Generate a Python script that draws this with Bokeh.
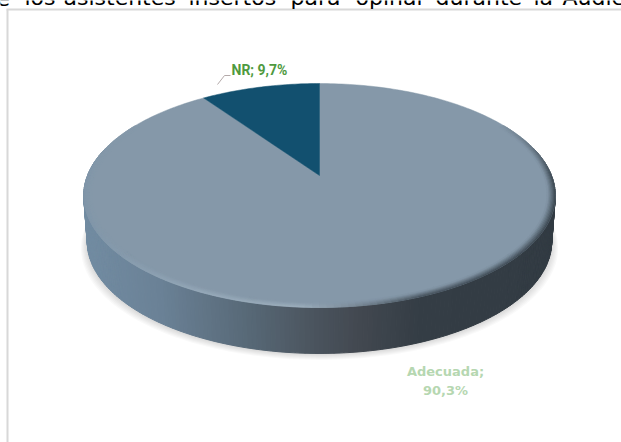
import math
import numpy as np
from bokeh.plotting import figure
from bokeh.models import Range1d, ColumnDataSource
from bokeh.core.properties import value
from bokeh.embed import file_html
from bokeh.resources import INLINE

categories = ["Adecuada", "NR"]
shares = [90.3, 9.7]
label_lines = [["Adecuada;", "90,3%"], ["NR; 9,7%"]]
title_words = ["e", "los", "asistentes", "insertos", "para", "opinar", "durante", "la", "Audiencia"]
title_word_x = [-4, 24, 63, 188, 290, 355, 435, 533, 562]

CX, CY, A, H, K, DEPTH = 319.0, 175.0, 232.0, 108.4, 0.1786, 46.0


def proj(theta, t=1.0, dy=0.0, s=1.0):
    u, v = t * np.cos(theta), t * np.sin(theta)
    w = 1.0 / (1.0 + K * v)
    return CX + s * A * u * w, CY - H * v * w + dy


def hex2rgb(h):
    return np.array([int(h[i:i + 2], 16) for i in (1, 3, 5)], float)


def rgb2hex(c):
    return "#%02x%02x%02x" % tuple(int(round(x)) for x in np.clip(c, 0, 255))


def ramp(x, xs, cols):
    arr = np.array([hex2rgb(c) for c in cols])
    return np.array([np.interp(x, xs, arr[:, i]) for i in range(3)])


p = figure(width=621, height=442, x_range=Range1d(0, 621), y_range=Range1d(442, 0),
           output_backend="svg", toolbar_location=None, min_border=0,
           margin=(0, 0, 0, 0), background_fill_color="white", border_fill_color="white")
p.axis.visible = False
p.grid.visible = False
p.outline_line_color = None

# frame of the pasted chart
p.quad(left=[6], right=[8], top=[9], bottom=[442], fill_color="#d8d8d8", line_color=None)
p.quad(left=[6], right=[621], top=[8], bottom=[10], fill_color="#d8d8d8", line_color=None)

# soft shadow under the disc
th = np.linspace(0, 2 * np.pi, 200)
for i in range(7):
    x, y = proj(th, 1.0, DEPTH + 0.5 + i * 1.0, 0.985 + i * 0.0045)
    p.patch(x, y, fill_color="#000000", fill_alpha=0.025, line_color=None)

# side wall
sx, sy, sc = [], [], []
angles = np.linspace(np.radians(165), np.radians(375), 211)
for a0, a1 in zip(angles[:-1], angles[1:]):
    x0t, y0t = proj(a0)
    x1t, y1t = proj(a1)
    x0b, y0b = proj(a0, 1.0, DEPTH, 0.985)
    x1b, y1b = proj(a1, 1.0, DEPTH, 0.985)
    sx.append([x0t, x1t, x1b, x0b])
    sy.append([y0t, y1t, y1b, y0b])
    sc.append(rgb2hex(ramp((x0t + x1t) / 2,
                           [83, 160, 250, 310, 360, 420, 555],
                           ["#728ca2", "#6a8196", "#576876", "#4b555f", "#424850", "#343d45", "#323b43"])))
p.patches("xs", "ys", fill_color="color", line_color="color", line_width=1,
          source=ColumnDataSource(dict(xs=sx, ys=sy, color=sc)))

# top face, slices from the shares
frac = np.array(shares) / sum(shares)
top = np.pi / 2
nr_end = top + 2 * np.pi * frac[1]
th_main = np.linspace(nr_end, top + 2 * np.pi, 300)
xm, ym = proj(th_main)
p.patch(np.r_[CX, xm], np.r_[CY, ym], fill_color="#8598a9", line_color="#8598a9", line_width=0.5)
th_nr = np.linspace(top, nr_end, 40)
xn, yn = proj(th_nr)
p.patch(np.r_[CX, xn], np.r_[CY, yn], fill_color="#12506f", line_color="#12506f", line_width=0.5)

# bevel on the rim of the face
base = hex2rgb("#8598a9")
rx, ry, rc = [], [], []
rings = np.linspace(1.0, 0.965, 8)
ang = np.linspace(np.radians(150), np.radians(390), 161)
for r0, r1 in zip(rings[:-1], rings[1:]):
    for a0, a1 in zip(ang[:-1], ang[1:]):
        am = (a0 + a1) / 2
        xa, ya = proj(np.array([a0, a1]), r0)
        xb, yb = proj(np.array([a1, a0]), r1)
        xm_ = float(proj(am, (r0 + r1) / 2)[0])
        edge = ramp(xm_, [83, 200, 300, 350, 420, 555],
                    ["#7f95a8", "#98abbb", "#a0b1bf", "#7c8b98", "#3f4a54", "#38434c"])
        strength = np.clip((0.55 - math.sin(am)) / 0.55, 0, 1)
        d = (1.0 - (r0 + r1) / 2) / 0.035
        mix = strength * (1 - d) ** 1.1
        rx.append(list(xa) + list(xb))
        ry.append(list(ya) + list(yb))
        rc.append(rgb2hex(base + (edge - base) * mix))
p.patches("xs", "ys", fill_color="color", line_color="color", line_width=0.6,
          source=ColumnDataSource(dict(xs=rx, ys=ry, color=rc)))

# leader of the NR label
p.line([217, 224, 230], [84, 75, 75], line_color="#b4aaaa", line_width=1)

# labels
p.text([231], [69], text=[label_lines[1][0]], text_font=value("Roboto"), text_font_style="bold",
       text_font_size="14px", text_color="#4f9a3f", text_align="left", text_baseline="middle")
p.text([445, 445], [371, 390], text=label_lines[0], text_font=value("DejaVu Sans"),
       text_font_style="bold", text_font_size="13px", text_color="#b6d7b1",
       text_align="center", text_baseline="middle")

# cut-off heading above the chart
p.text(title_word_x, [-3] * len(title_words), text=title_words, text_font=value("DejaVu Sans"),
       text_font_size="22px", text_color="#000000", text_align="left", text_baseline="alphabetic")

open("out.html", "w").write(file_html(p, INLINE))
